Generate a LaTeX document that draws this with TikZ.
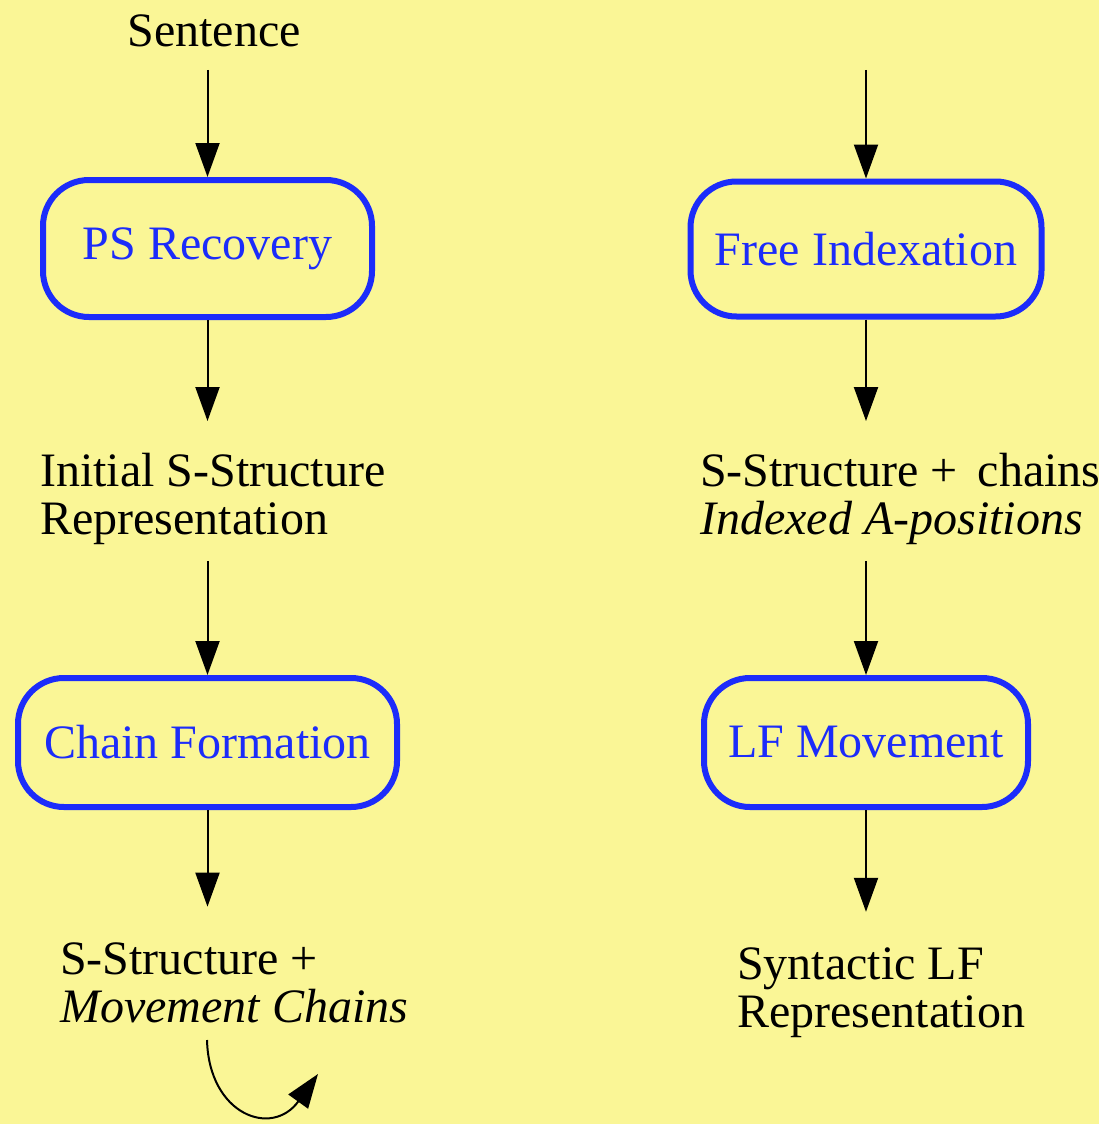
\documentclass[tikz,border=0pt]{standalone}
\usepackage{fontspec}
\setmainfont{Liberation Serif}
\usetikzlibrary{arrows.meta}
\definecolor{paper}{RGB}{250,246,150}
\definecolor{procblue}{RGB}{28,44,250}
\tikzset{
  proc/.style={draw=procblue, line width=6pt, rounded corners=46pt,
    text=procblue, font=\fontsize{48}{48}\selectfont, inner sep=0pt},
  label/.style={align=left, inner sep=0pt, font=\fontsize{48}{48}\selectfont},
  arr/.style={line width=2pt, -{Triangle[width=24pt,length=34pt]}},
}
\begin{document}
\begin{tikzpicture}[x=1pt,y=-1pt]
  \fill[paper] (0,0) rectangle (1099,1124);
  \useasboundingbox (0,0) rectangle (1099,1124);

  % left column
  \node[label, anchor=center] (sent) at (214,31) {Sentence};
  \node[proc, minimum width=329pt, minimum height=137pt] (ps) at (207.5,248.5) {PS Recovery};
  \node[label, anchor=west] (init) at (40,499) {Initial S-Structure\\Representation};
  \node[proc, minimum width=379pt, minimum height=129pt] (chain) at (207.5,742.5) {Chain Formation};
  \node[label, anchor=west] (mov) at (60,983) {S-Structure +\\\textit{Movement Chains}};
  \coordinate (cs) at (207,1040);
  \coordinate (ce) at (318,1074);

  % right column
  \coordinate (rtop) at (866,70);
  \node[proc, minimum width=351pt, minimum height=135pt] (free) at (866,249) {Free Indexation};
  \node[label, anchor=west] (schain) at (700,499) {S-Structure + \,chains\\\textit{Indexed A-positions}};
  \node[proc, minimum width=324pt, minimum height=129pt] (lf) at (866,742.5) {LF Movement};
  \node[label, anchor=west] (synlf) at (737,993) {Syntactic LF\\Representation};

  % connectors
  \draw[arr] (rtop -| ps.north) -- (ps.north);
  \draw[arr] (ps.south) -- ([yshift=32pt]init.north -| ps.south);
  \draw[arr] ([yshift=-16pt]init.south -| chain.north) -- (chain.north);
  \draw[arr] (chain.south) -- ([yshift=36pt]mov.north -| chain.south);
  \draw[arr] (cs) .. controls (209,1115) and (272,1138) .. (ce);

  \draw[arr] (rtop) -- (free.north);
  \draw[arr] (free.south) -- ([yshift=32pt]schain.north -| free.south);
  \draw[arr] ([yshift=-16pt]schain.south -| lf.north) -- (lf.north);
  \draw[arr] (lf.south) -- ([yshift=36pt]synlf.north -| lf.south);
\end{tikzpicture}
\end{document}
